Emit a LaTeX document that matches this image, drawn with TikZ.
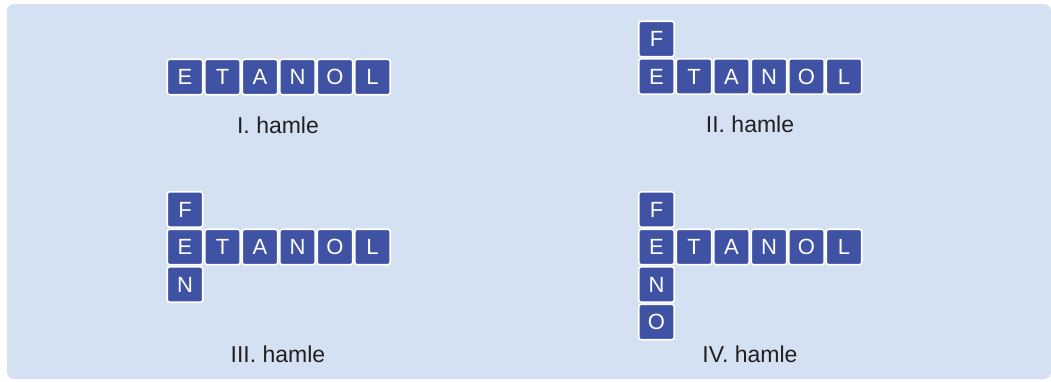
\documentclass[tikz,border=0pt]{standalone}
\usepackage{fontspec}
\setmainfont{Liberation Sans}
\definecolor{bgblue}{HTML}{D4E1F2}
\definecolor{tileblue}{HTML}{3F52A4}
\definecolor{txt}{HTML}{231F20}
\begin{document}
\begin{tikzpicture}[x=1pt,y=-1pt,
  tile/.style={draw=white,line width=1.6pt,fill=tileblue,rounded corners=2.5pt,
    minimum width=35.5pt,minimum height=35.5pt,inner sep=0pt,text=white,
    font=\fontsize{22}{22}\selectfont},
  lbl/.style={text=txt,font=\fontsize{23}{23}\selectfont,inner sep=0pt}]
\useasboundingbox (0,0) rectangle (1051,381);
\fill[white] (0,0) rectangle (1051,381);
\fill[bgblue,rounded corners=7pt] (7,4) rectangle (1051,379);
% Panel I
\foreach \l [count=\i from 0] in {E,T,A,N,O,L}
  \node[tile] (a\i) at (185+37.5*\i,77) {\l};
\node[lbl] (la) at (278,125) {I. hamle};
% Panel II
\foreach \l [count=\i from 0] in {E,T,A,N,O,L}
  \node[tile] (b\i) at (656.5+37.5*\i,76.5) {\l};
\node[tile] (bF) at (656.5,39) {F};
\node[lbl] (lb) at (750,124) {II. hamle};
% Panel III
\foreach \l [count=\i from 0] in {E,T,A,N,O,L}
  \node[tile] (c\i) at (185+37.5*\i,247) {\l};
\node[tile] (cF) at (185,209.5) {F};
\node[tile] (cN) at (185,284.5) {N};
\node[lbl] (lc) at (278,354) {III. hamle};
% Panel IV
\foreach \l [count=\i from 0] in {E,T,A,N,O,L}
  \node[tile] (d\i) at (656.5+37.5*\i,247) {\l};
\node[tile] (dF) at (656.5,209.5) {F};
\node[tile] (dN) at (656.5,284.5) {N};
\node[tile] (dO) at (656.5,322) {O};
\node[lbl] (ld) at (750,354) {IV. hamle};
\end{tikzpicture}
\end{document}
